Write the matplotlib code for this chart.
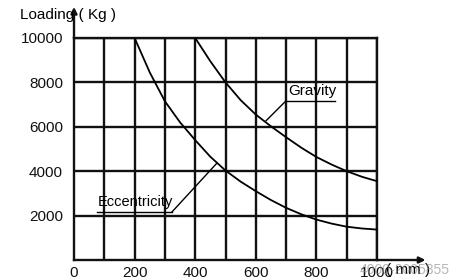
import matplotlib.pyplot as plt

# values
ecc_x = [200, 250, 300, 350, 400, 450, 500, 550, 600, 650, 700, 750, 800, 850, 900, 950, 1000]
ecc_y = [10000, 8450, 7150, 6200, 5400, 4650, 4030, 3530, 3100, 2700, 2350, 2060, 1820, 1640, 1500, 1420, 1370]

grav_x = [400, 450, 500, 550, 600, 650, 700, 750, 800, 850, 900, 950, 1000]
grav_y = [10000, 8950, 8000, 7200, 6550, 6020, 5530, 5060, 4640, 4300, 4000, 3750, 3550]

x_ticks = [0, 200, 400, 600, 800, 1000]
y_ticks = [2000, 4000, 6000, 8000, 10000]

plt.rcParams['font.family'] = ['Liberation Sans', 'DejaVu Sans']

fig = plt.figure(figsize=(4.56, 2.79), dpi=100)
ax = fig.add_axes([0.1623, 0.0681, 0.6645, 0.7957])

ax.set_xlim(0, 1000)
ax.set_ylim(0, 10000)

# grid every 100 mm and 2000 kg
for gx in range(100, 1001, 100):
    ax.axvline(gx, color='#111111', lw=1.7, zorder=1)
for gy in range(2000, 10001, 2000):
    ax.axhline(gy, color='#111111', lw=1.7, zorder=1)
for s in ax.spines.values():
    s.set_linewidth(1.7)
    s.set_color('#111111')

ax.plot(ecc_x, ecc_y, color='black', lw=1.3, zorder=3)
ax.plot(grav_x, grav_y, color='black', lw=1.3, zorder=3)

# labels with leader lines
ax.plot([700, 861], [7175, 7175], color='black', lw=1.0)
ax.plot([700, 634], [7175, 6275], color='black', lw=1.0)
ax.text(706, 7300, 'Gravity', fontsize=11, ha='left', va='bottom')

ax.plot([76, 323], [2160, 2160], color='black', lw=1.0)
ax.plot([323, 472], [2160, 4370], color='black', lw=1.0)
ax.text(80, 2290, 'Eccentricity', fontsize=10.5, ha='left', va='bottom')

ax.set_xticks(x_ticks)
ax.set_yticks([0] + y_ticks)
ax.set_yticklabels([''] + [str(v) for v in y_ticks])
ax.tick_params(length=0, labelsize=11, colors='#111111')
ax.tick_params(axis='y', pad=8)
ax.tick_params(axis='x', pad=4)

# axis arrows
ax.annotate('', xy=(0, 11400), xytext=(0, 10000), annotation_clip=False,
            arrowprops=dict(arrowstyle='-|>', color='#111111', lw=1.7,
                            mutation_scale=9, shrinkA=0, shrinkB=0))
ax.annotate('', xy=(1160, 0), xytext=(1000, 0), annotation_clip=False,
            arrowprops=dict(arrowstyle='-|>', color='#111111', lw=1.7,
                            mutation_scale=9, shrinkA=0, shrinkB=0))

fig.text(20 / 456, 1 - 15 / 279, 'Loading ( Kg )', fontsize=11, ha='left', va='center')
fig.text(386 / 456, 1 - 270 / 279, '( mm )', fontsize=11, ha='left', va='center')
fig.text(360 / 456, 1 - 270 / 279, '4000-2005855', fontsize=10, ha='left', va='center',
         color='#888888', alpha=0.6)

fig.savefig('out.png', dpi=100)
